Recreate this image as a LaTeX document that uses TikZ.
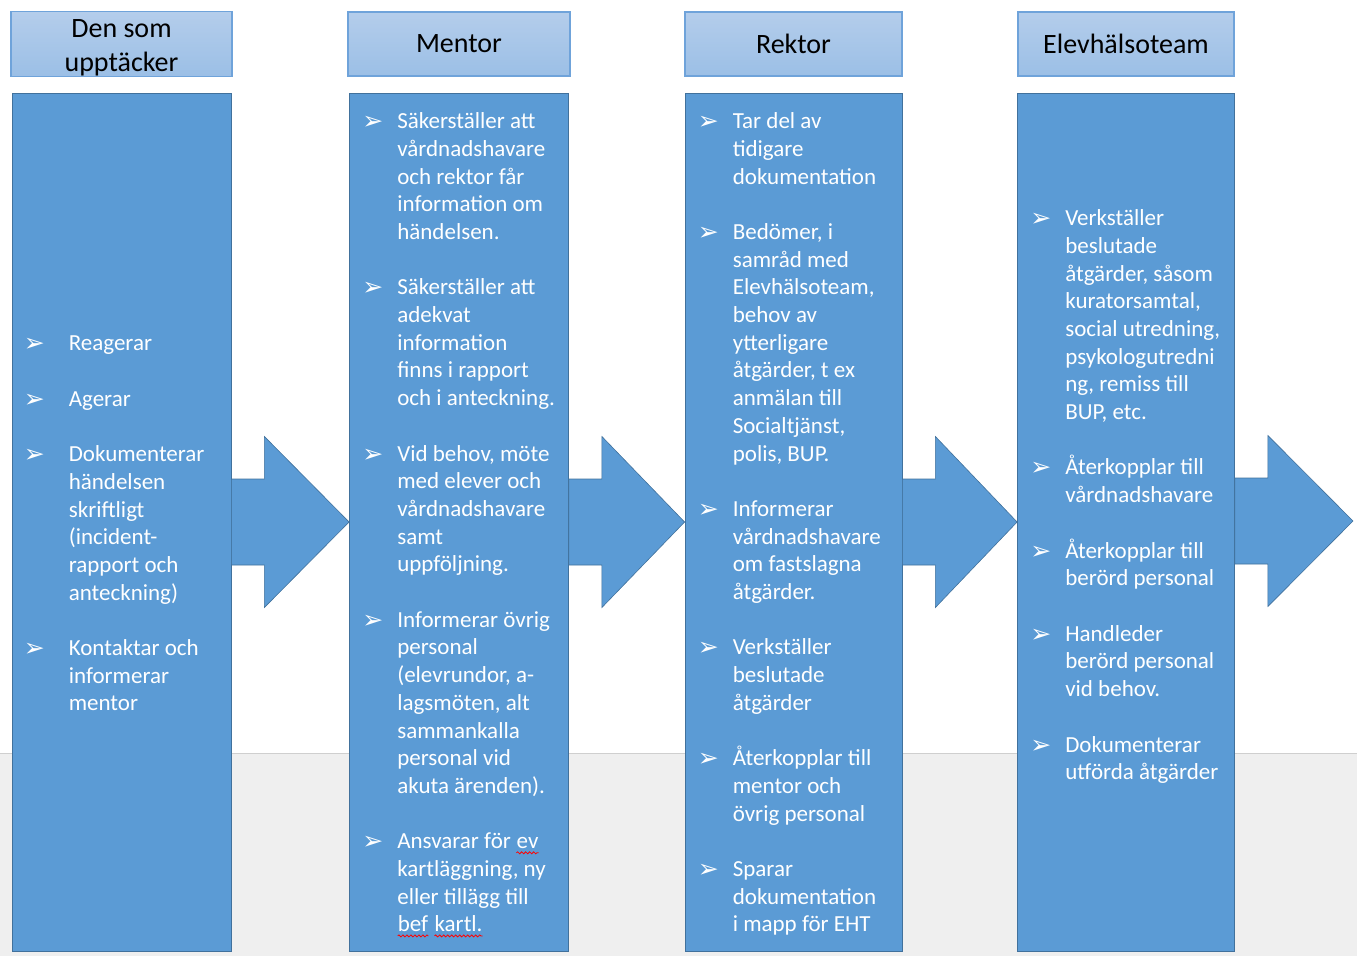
\documentclass[tikz,border=0pt]{standalone}
\usepackage{fontspec}
\setmainfont{Carlito}
\newfontfamily\symfont{DejaVu Sans}
\usetikzlibrary{calc,positioning,decorations.pathmorphing}
\definecolor{boxblue}{HTML}{5B9BD5}
\definecolor{boxedge}{HTML}{41719C}
\definecolor{headtop}{HTML}{B4CDEB}
\definecolor{headbot}{HTML}{9BBFE6}
\definecolor{headedge}{HTML}{6FA3DA}
\definecolor{floorgray}{HTML}{EFEFEF}
\definecolor{floorline}{HTML}{CFCFCF}
\newcommand{\bul}{\raisebox{-1pt}{\symfont\fontsize{25}{25}\selectfont ➢}}
\newcommand{\spell}[1]{\tikz[baseline=(w.base)]{\node[inner sep=0pt] (w) {#1};
  \draw[red,line width=0.8pt,decorate,decoration={snake,amplitude=1pt,segment length=4pt}]
    ([yshift=-4pt]w.base west) -- ([yshift=-4pt]w.base east);}}
\newcommand{\itemgap}{\\[27.7pt]}

\begin{document}
\begin{tikzpicture}[x=1pt,y=1pt,node distance=16pt,
  head/.style={draw=headedge,line width=1.2pt,top color=headtop,bottom color=headbot,minimum height=64pt,inner sep=0pt,align=center,font=\fontsize{28}{34}\selectfont},
  box/.style={draw=boxedge,line width=0.8pt,fill=boxblue,minimum height=858pt},
  flow/.style={draw=boxedge,line width=0.6pt,fill=boxblue},
  items/.style={anchor=base west,inner sep=0pt,text=white,font=\fontsize{23}{27.7}\selectfont}]
  \useasboundingbox (0,0) rectangle (1357,-956);
  \fill[floorgray] (0,-753) rectangle (1357,-956);
  \draw[floorline] (0,-753) -- (1357,-753);

  \node[head,minimum width=221pt] (h1) at (121.5,-44) {\rule{0pt}{26pt}Den som\\upptäcker};
  \node[head,minimum width=222pt] (h2) at (459,-44) {Mentor};
  \node[head,minimum width=217pt] (h3) at (793.5,-44) {Rektor};
  \node[head,minimum width=216pt] (h4) at (1126,-44) {Elevhälsoteam};

  \node[box,minimum width=219pt] (b1) [below=of h1] {};
  \node[box,minimum width=219pt] (b2) [below=of h2] {};
  \node[box,minimum width=217pt] (b3) [below=of h3] {};
  \node[box,minimum width=217pt] (b4) [below=of h4] {};
  \coordinate (out) at (1353,-521);

  % block arrows between the columns
  \draw[flow] let \p1=(b1.east), \p2=(b2.west) in
    (\x1,\y2+43pt) -- (\x1+33pt,\y2+43pt) -- (\x1+33pt,\y2+85.5pt) -- (\p2)
    -- (\x1+33pt,\y2-85.5pt) -- (\x1+33pt,\y2-43pt) -- (\x1,\y2-43pt) -- cycle;
  \draw[flow] let \p1=(b2.east), \p2=(b3.west) in
    (\x1,\y2+43pt) -- (\x1+33pt,\y2+43pt) -- (\x1+33pt,\y2+85.5pt) -- (\p2)
    -- (\x1+33pt,\y2-85.5pt) -- (\x1+33pt,\y2-43pt) -- (\x1,\y2-43pt) -- cycle;
  \draw[flow] let \p1=(b3.east), \p2=(b4.west) in
    (\x1,\y2+43pt) -- (\x1+33pt,\y2+43pt) -- (\x1+33pt,\y2+85.5pt) -- (\p2)
    -- (\x1+33pt,\y2-85.5pt) -- (\x1+33pt,\y2-43pt) -- (\x1,\y2-43pt) -- cycle;
  \draw[flow] let \p1=(b4.east), \p2=(out) in
    (\x1,\y2+43pt) -- (\x1+33pt,\y2+43pt) -- (\x1+33pt,\y2+85.5pt) -- (\p2)
    -- (\x1+33pt,\y2-85.5pt) -- (\x1+33pt,\y2-43pt) -- (\x1,\y2-43pt) -- cycle;

  \node[items] (t1) at ($(b1.north west)+(12,-258)$) {\begin{tabular}[t]{@{}p{45pt}@{}l@{}}
    \bul & Reagerar\itemgap
    \bul & Agerar\itemgap
    \bul & Dokumenterar\\ & händelsen\\ & skriftligt\\ & (incident-\\ & rapport och\\ & anteckning)\itemgap
    \bul & Kontaktar och\\ & informerar\\ & mentor
  \end{tabular}};
  \node[items] (t2) at ($(b2.north west)+(13,-36)$) {\begin{tabular}[t]{@{}p{35pt}@{}l@{}}
    \bul & Säkerställer att\\ & vårdnadshavare\\ & och rektor får\\ & information om\\ & händelsen.\itemgap
    \bul & Säkerställer att\\ & adekvat\\ & information\\ & finns i rapport\\ & och i anteckning.\itemgap
    \bul & Vid behov, möte\\ & med elever och\\ & vårdnadshavare\\ & samt\\ & uppföljning.\itemgap
    \bul & Informerar övrig\\ & personal\\ & (elevrundor, a-\\ & lagsmöten, alt\\ & sammankalla\\ & personal vid\\ & akuta ärenden).\itemgap
    \bul & Ansvarar för \spell{ev}\\ & kartläggning, ny\\ & eller tillägg till\\ & \spell{bef} \spell{kartl.}
  \end{tabular}};
  \node[items] (t3) at ($(b3.north west)+(13,-36)$) {\begin{tabular}[t]{@{}p{35pt}@{}l@{}}
    \bul & Tar del av\\ & tidigare\\ & dokumentation\itemgap
    \bul & Bedömer, i\\ & samråd med\\ & Elevhälsoteam,\\ & behov av\\ & ytterligare\\ & åtgärder, t ex\\ & anmälan till\\ & Socialtjänst,\\ & polis, BUP.\itemgap
    \bul & Informerar\\ & vårdnadshavare\\ & om fastslagna\\ & åtgärder.\itemgap
    \bul & Verkställer\\ & beslutade\\ & åtgärder\itemgap
    \bul & Återkopplar till\\ & mentor och\\ & övrig personal\itemgap
    \bul & Sparar\\ & dokumentation\\ & i mapp för EHT
  \end{tabular}};
  \node[items] (t4) at ($(b4.north west)+(13,-133)$) {\begin{tabular}[t]{@{}p{35pt}@{}l@{}}
    \bul & Verkställer\\ & beslutade\\ & åtgärder, såsom\\ & kuratorsamtal,\\ & social utredning,\\ & psykologutredni\\ & ng, remiss till\\ & BUP, etc.\itemgap
    \bul & Återkopplar till\\ & vårdnadshavare\itemgap
    \bul & Återkopplar till\\ & berörd personal\itemgap
    \bul & Handleder\\ & berörd personal\\ & vid behov.\itemgap
    \bul & Dokumenterar\\ & utförda åtgärder
  \end{tabular}};
\end{tikzpicture}
\end{document}
